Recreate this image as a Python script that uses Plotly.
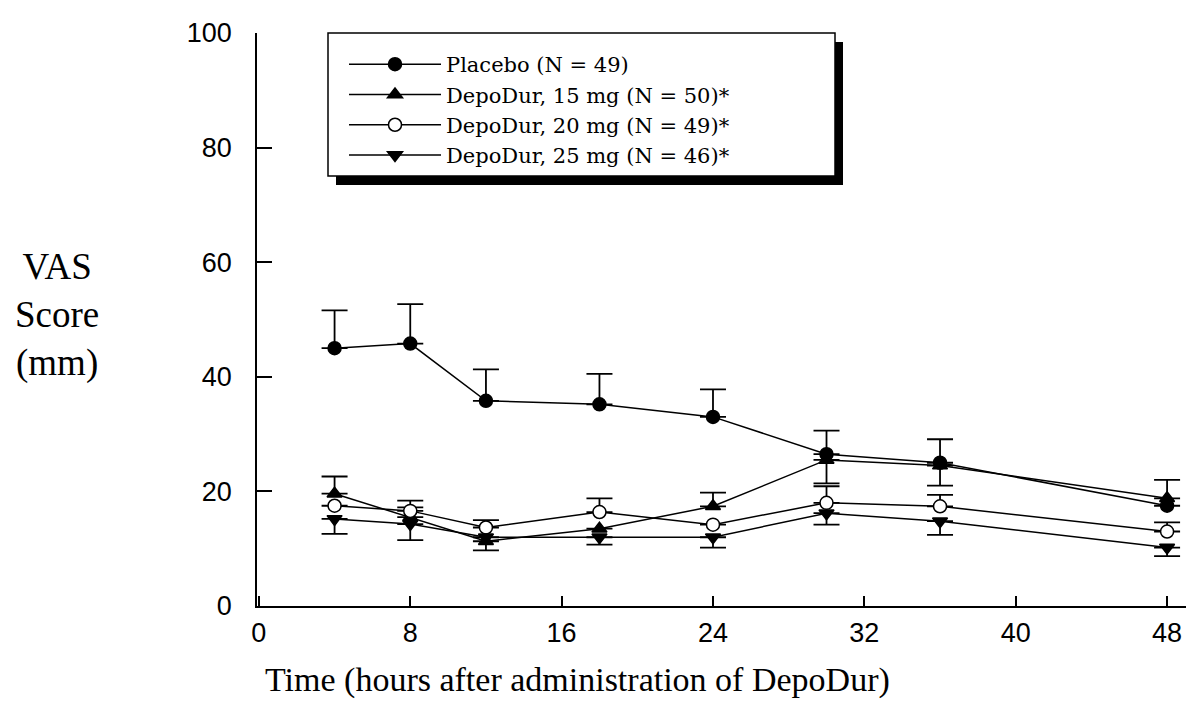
import plotly.graph_objects as go

# ---------------- data ----------------
hours = [4, 8, 12, 18, 24, 30, 36, 48]

placebo = [45.0, 45.8, 35.8, 35.2, 33.0, 26.5, 25.0, 17.5]
placebo_up = [6.6, 6.9, 5.5, 5.3, 4.8, 4.1, 4.1, 4.5]
placebo_down = [0, 0, 0, 0, 0, 0, 0, 0]

mg15 = [19.6, 15.5, 11.3, 13.5, 17.4, 25.5, 24.5, 18.8]
mg15_up = [3.0, 1.7, 0, 0, 2.4, 0, 0, 0]
mg15_down = [0, 0, 1.6, 0, 0, 4.1, 3.5, 0]

mg20 = [17.5, 16.6, 13.7, 16.4, 14.2, 18.0, 17.4, 13.0]
mg20_up = [0, 1.8, 1.3, 2.4, 0, 2.9, 2.0, 1.6]
mg20_down = [0, 0, 0, 0, 0, 0, 0, 0]

mg25 = [15.2, 14.3, 12.0, 12.0, 12.0, 16.2, 14.8, 10.2]
mg25_up = [0, 0, 0, 0, 0, 0, 0, 0]
mg25_down = [2.6, 2.8, 0, 1.3, 1.8, 2.0, 2.4, 1.5]

names = ["Placebo (N = 49)", "DepoDur, 15 mg (N = 50)*",
         "DepoDur, 20 mg (N = 49)*", "DepoDur, 25 mg (N = 46)*"]
x_ticks = [0, 8, 16, 24, 32, 40, 48]
y_ticks = [0, 20, 40, 60, 80, 100]

# ---------------- layout geometry (pixels) ----------------
W, H = 1191, 702
L, R, T, B = 257, 1186, 33, 606


def px(xp):
    return (xp - L) / (R - L)


def py(yp):
    return (B - yp) / (B - T)


fig = go.Figure()

series = [
    (placebo, placebo_up, placebo_down, "circle", "black"),
    (mg15, mg15_up, mg15_down, "triangle-up", "black"),
    (mg20, mg20_up, mg20_down, "circle", "white"),
    (mg25, mg25_up, mg25_down, "triangle-down", "black"),
]

for (vals, up, down, sym, fill), nm in zip(series, names):
    fig.add_trace(go.Scatter(
        x=hours, y=vals, name=nm, mode="lines+markers",
        line=dict(color="black", width=1.5),
        marker=dict(symbol=sym, size=13, color=fill,
                    line=dict(color="black", width=1.5)),
        error_y=dict(type="data", symmetric=False, array=up, arrayminus=down,
                     color="black", thickness=1.8, width=13),
    ))

serif = "Liberation Serif, Times New Roman, serif"
sans = "Liberation Sans, Arial, sans-serif"

# legend box with drop shadow
fig.add_shape(type="rect", xref="paper", yref="paper",
              x0=px(336), x1=px(843), y0=py(185), y1=py(42),
              fillcolor="black", line=dict(width=0), layer="above")
fig.add_shape(type="rect", xref="paper", yref="paper",
              x0=px(328), x1=px(835), y0=py(176), y1=py(33),
              fillcolor="white", line=dict(color="black", width=1.5), layer="above")

fig.add_annotation(text="VAS<br>Score<br>(mm)", xref="paper", yref="paper",
                   x=px(57), y=py(315), xanchor="center", yanchor="middle",
                   showarrow=False, align="center",
                   font=dict(family=serif, size=37, color="black"))
fig.add_annotation(text="Time (hours after administration of DepoDur)",
                   xref="paper", yref="paper", x=px(577), y=py(680),
                   xanchor="center", yanchor="middle", showarrow=False,
                   font=dict(family=serif, size=34, color="black"))

fig.update_layout(
    width=W, height=H,
    margin=dict(l=L, r=W - R, t=T, b=H - B),
    paper_bgcolor="white", plot_bgcolor="white",
    showlegend=True,
    legend=dict(x=px(344), y=py(44), xanchor="left", yanchor="top",
                bgcolor="rgba(0,0,0,0)", borderwidth=0,
                font=dict(family="DejaVu Serif, serif", size=21, color="black"),
                itemwidth=92, tracegroupgap=0),
    xaxis=dict(range=[-0.1, 49.0], tickmode="array", tickvals=x_ticks,
               ticktext=[str(v) for v in x_ticks],
               showgrid=False, zeroline=False, showline=True,
               linecolor="black", linewidth=1.5,
               ticks="inside", ticklen=10, tickwidth=1.5, tickcolor="black",
               tickfont=dict(family=sans, size=27, color="black"),
               ticklabelstandoff=2),
    yaxis=dict(range=[0, 100], tickmode="array", tickvals=y_ticks,
               ticktext=[str(v) for v in y_ticks],
               showgrid=False, zeroline=False, showline=True,
               linecolor="black", linewidth=1.5,
               ticks="inside", ticklen=15, tickwidth=1.5, tickcolor="black",
               tickfont=dict(family=sans, size=27, color="black"),
               ticklabelstandoff=18),
)

fig.write_html("out.html",
               config={"displayModeBar": False},
               post_script="document.body.style.margin='0';"
                           "document.body.style.overflow='hidden';")
